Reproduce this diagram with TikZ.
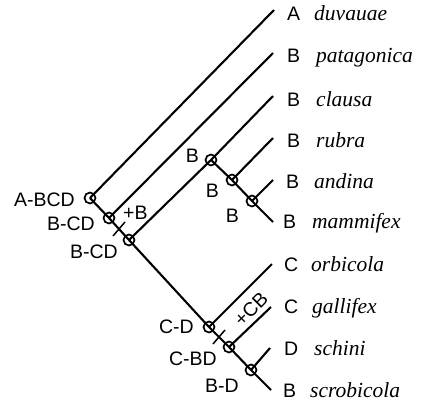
\documentclass[tikz,border=0pt]{standalone}
\usepackage{fontspec}
\setmainfont{Liberation Serif}
\newfontfamily\labfont{Liberation Sans}
\usetikzlibrary{calc}
\begin{document}
\begin{tikzpicture}[x=1pt,y=-1pt,
  branch/.style={line width=2.1pt},
  anc/.style={circle,draw,line width=1.7pt,minimum size=11pt,inner sep=0pt},
  lab/.style={font=\labfont\fontsize{19.5}{20}\selectfont,inner sep=0pt},
  sp/.style={font=\fontsize{21.5}{22}\selectfont\itshape,inner sep=0pt,anchor=base west},
  let/.style={lab,anchor=base west}]
\useasboundingbox (0,0) rectangle (425,407);
% tips
\coordinate (t0) at (274,10);
\coordinate (t1) at (273,53);
\coordinate (t2) at (273,96);
\coordinate (t3) at (273,138);
\coordinate (t4) at (273,180);
\coordinate (t5) at (273,222);
\coordinate (t6) at (272,264);
\coordinate (t7) at (271,307);
\coordinate (t8) at (270,348);
\coordinate (t9) at (271,390);
% internal nodes
\coordinate (r) at (90,198);
\coordinate (n1) at (109,218);
\coordinate (n2) at (129,240);
\coordinate (n3) at (211,160);
\coordinate (n4) at (232,180);
\coordinate (n5) at (252,201);
\coordinate (n6) at (209,327);
\coordinate (n7) at (229,347);
\coordinate (n8) at (251,370);
% branches
\draw[branch] (r) -- (t0);
\draw[branch] (r) -- (n1) -- (n2) -- (n6) -- (n7) -- (n8) -- (t9);
\draw[branch] (n1) -- (t1);
\draw[branch] (n2) -- (n3) -- (t2);
\draw[branch] (n3) -- (n4) -- (n5) -- (t5);
\draw[branch] (n4) -- (t3);
\draw[branch] (n5) -- (t4);
\draw[branch] (n6) -- (t6);
\draw[branch] (n7) -- (t7);
\draw[branch] (n8) -- (t8);
% circles
\foreach \n in {r,n1,n2,n3,n4,n5,n6,n7,n8}
  \node[anc] (c\n) at (\n) {};
% ticks
\coordinate (k1) at ($(n1)!0.5!(n2)$);
\coordinate (k2) at ($(n6)!0.5!(n7)$);
\draw[line width=1.5pt] ($(k1)+(-6,7)$) -- ($(k1)+(6,-7)$);
\draw[line width=1.5pt] ($(k2)+(-6,7)$) -- ($(k2)+(6,-7)$);
% ancestral labels
\node[lab,anchor=base east] (l0) at (75,206) {A-BCD};
\node[lab,anchor=base east] (l1) at (95,230) {B-CD};
\node[lab,anchor=base west] (l1b) at (123,219) {+B};
\node[lab,anchor=base east] (l2) at (118,258) {B-CD};
\node[lab,anchor=base east] (l3) at (199,162) {B};
\node[lab,anchor=base east] (l4) at (219,197) {B};
\node[lab,anchor=base east] (l5) at (239,222) {B};
\node[lab,anchor=base east] (l6) at (194,333) {C-D};
\node[lab,anchor=base east] (l7) at (217,365) {C-BD};
\node[lab,anchor=base east] (l8) at (239,392) {B-D};
\node[lab,rotate=45] (l7b) at (251,309) {+CB};
% leaf labels
\node[let] (a0) at (287,20) {A};   \node[sp] (s0) at (314,20) {duvauae};
\node[let] (a1) at (287,62) {B};   \node[sp] (s1) at (316,62) {patagonica};
\node[let] (a2) at (287,106) {B};  \node[sp] (s2) at (316,106) {clausa};
\node[let] (a3) at (287,147) {B};  \node[sp] (s3) at (316,147) {rubra};
\node[let] (a4) at (286,188) {B};  \node[sp] (s4) at (314,188) {andina};
\node[let] (a5) at (283,228) {B};  \node[sp] (s5) at (312,228) {mammifex};
\node[let] (a6) at (284,271) {C};  \node[sp] (s6) at (311,271) {orbicola};
\node[let] (a7) at (284,313) {C};  \node[sp] (s7) at (312,313) {gallifex};
\node[let] (a8) at (284,355) {D};  \node[sp] (s8) at (314,355) {schini};
\node[let] (a9) at (283,397) {B};  \node[sp] (s9) at (310,397) {scrobicola};
\end{tikzpicture}
\end{document}
